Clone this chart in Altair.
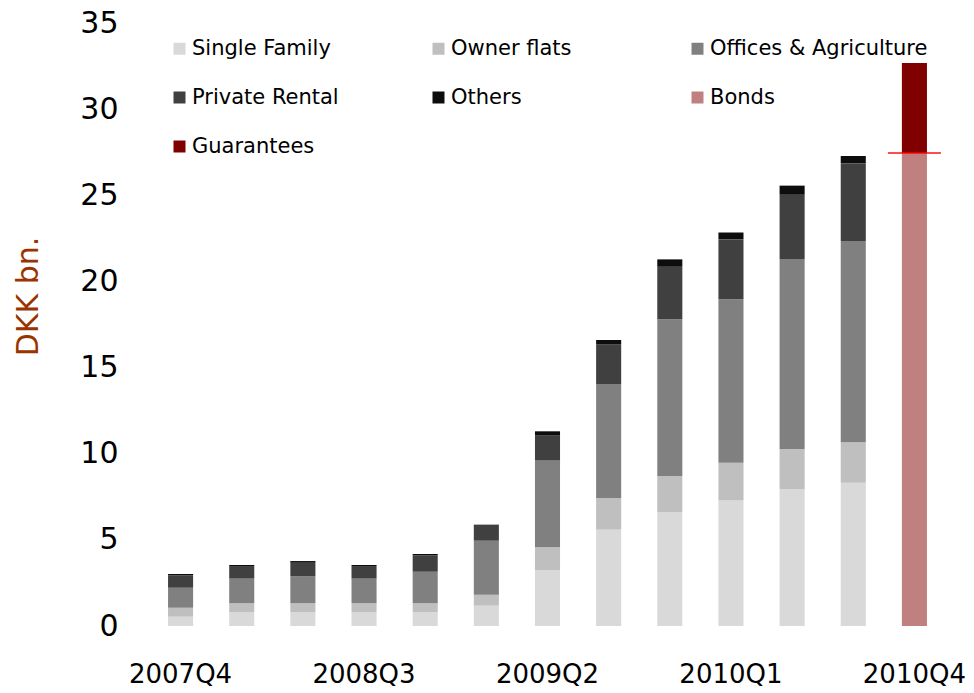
import altair as alt
import pandas as pd

quarters = ["2007Q4", "2008Q1", "2008Q2", "2008Q3", "2008Q4", "2009Q1", "2009Q2",
            "2009Q3", "2009Q4", "2010Q1", "2010Q2", "2010Q3", "2010Q4"]
single_family = [0.54, 0.81, 0.81, 0.81, 0.81, 1.18, 3.25, 5.59, 6.62, 7.28, 7.95, 8.32, 0]
owner_flats = [0.52, 0.51, 0.51, 0.51, 0.51, 0.64, 1.32, 1.84, 2.09, 2.20, 2.32, 2.34, 0]
offices_agri = [1.16, 1.43, 1.56, 1.43, 1.83, 3.13, 5.06, 6.62, 9.09, 9.48, 11.03, 11.68, 0]
private_rental = [0.72, 0.73, 0.79, 0.73, 0.95, 0.87, 1.42, 2.30, 3.09, 3.48, 3.77, 4.51, 0]
others = [0.08, 0.06, 0.10, 0.06, 0.08, 0.06, 0.25, 0.25, 0.39, 0.40, 0.49, 0.43, 0]
bonds = [0, 0, 0, 0, 0, 0, 0, 0, 0, 0, 0, 0, 27.45]
guarantees = [0, 0, 0, 0, 0, 0, 0, 0, 0, 0, 0, 0, 5.23]
marker_quarter = ["2010Q4"]
marker_value = [27.45]

series_names = ["Single Family", "Owner flats", "Offices & Agriculture",
                "Private Rental", "Others", "Bonds", "Guarantees"]
series_colors = ["#D9D9D9", "#BFBFBF", "#808080", "#404040", "#0D0D0D", "#C0807F", "#800000"]
series_values = [single_family, owner_flats, offices_agri, private_rental, others, bonds, guarantees]
axis_labels = ["2007Q4", "2008Q3", "2009Q2", "2010Q1", "2010Q4"]

rows = []
for si, (name, vals) in enumerate(zip(series_names, series_values)):
    for q, v in zip(quarters, vals):
        if v > 0:
            rows.append({"quarter": q, "series": name, "value": v, "order": si})
df = pd.DataFrame(rows)
df_marker = pd.DataFrame({"quarter": marker_quarter, "value": marker_value})

font = "DejaVu Sans"

x_enc = alt.X("quarter:N", sort=quarters,
              scale=alt.Scale(domain=quarters, paddingInner=0.59, paddingOuter=0.295),
              axis=alt.Axis(title=None, values=axis_labels, labelAngle=0, ticks=False,
                            domain=False, labelFontSize=26, labelPadding=35,
                            labelColor="#000000", labelFont=font))

bars = alt.Chart(df).mark_bar().encode(
    x=x_enc,
    y=alt.Y("value:Q", stack="zero",
            scale=alt.Scale(domain=[0, 35], nice=False),
            axis=alt.Axis(title="DKK bn.", values=[0, 5, 10, 15, 20, 25, 30, 35],
                          grid=False, ticks=False, domain=False, labelFontSize=30,
                          labelPadding=32, labelColor="#000000", labelFont=font,
                          titleFont=font, titleFontSize=30, titleFontWeight="normal",
                          titleColor="#993300", titleX=-122, titleY=273,
                          titleAngle=270, titleAlign="center", titleBaseline="middle")),
    color=alt.Color("series:N",
                    scale=alt.Scale(domain=series_names, range=series_colors),
                    legend=alt.Legend(title=None, orient="none", legendX=19, legendY=15,
                                      columns=3, direction="horizontal", gridAlign="all",
                                      columnPadding=18, rowPadding=27, padding=0,
                                      symbolType="square", symbolSize=144,
                                      symbolStrokeWidth=0, labelFontSize=21,
                                      labelFont=font, labelColor="#000000",
                                      labelLimit=400, labelOffset=2)),
    order=alt.Order("order:Q", sort="ascending"),
)

marker = alt.Chart(df_marker).mark_tick(color="#FF0000", size=53, thickness=2).encode(
    x=alt.X("quarter:N", sort=quarters),
    y=alt.Y("value:Q"),
)

chart = alt.layer(bars, marker).properties(
    width=795, height=603,
    autosize=alt.AutoSizeParams(type="none"),
    padding={"left": 150, "top": 23, "right": 29, "bottom": 67},
).configure_view(stroke=None)

chart.save("out.html", embed_options={"renderer": "svg", "actions": False})
